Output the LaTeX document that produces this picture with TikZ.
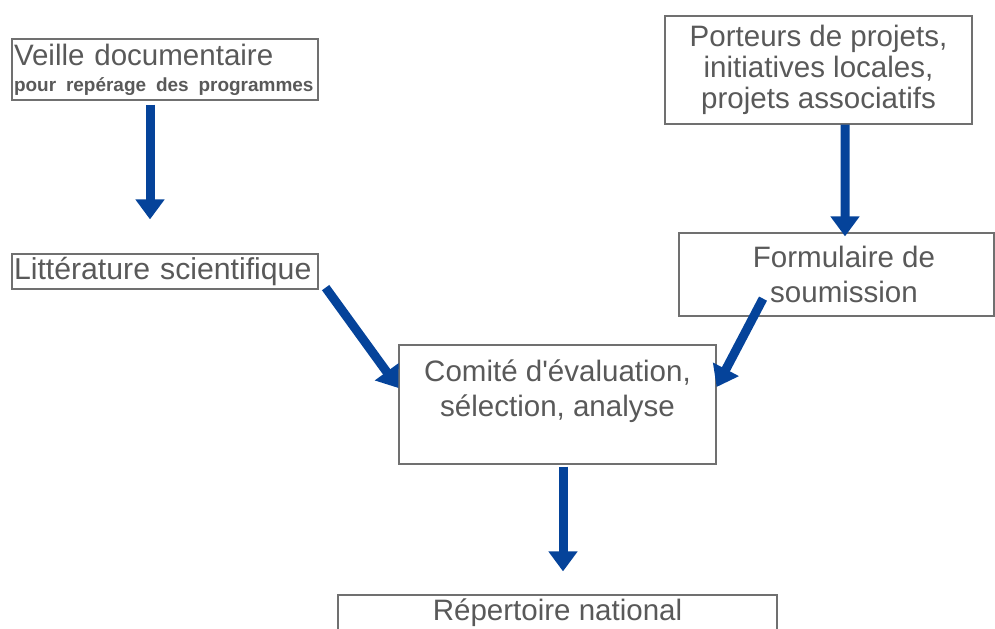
\documentclass[tikz,border=0pt]{standalone}
\usepackage{fontspec}
\setmainfont{Liberation Sans}[Ligatures=TeXOff]
\usetikzlibrary{arrows.meta}
\definecolor{boxgray}{HTML}{707070}
\definecolor{txtgray}{HTML}{595959}
\definecolor{flowblue}{HTML}{05439A}

\begin{document}
\begin{tikzpicture}[
  stepbox/.style={rectangle, draw=boxgray, line width=0.7pt, inner sep=0.4mm,
    text=txtgray, align=center, font=\fontsize{16.8}{17}\selectfont},
  flow/.style={draw=flowblue, line width=1.8mm,
    -{Triangle[width=5.6mm, length=4mm]}}
]
  \useasboundingbox (0,0) rectangle (19.9,-12.56);

  \node[stepbox, minimum width=6.12cm, minimum height=1.22cm, text width=6.04cm,
    align=left] (veille) at (3.30,-1.39)
    {\raisebox{-3pt}{Veille documentaire}\\[1pt]{\fontsize{10.8}{12}\selectfont\bfseries pour repérage des programmes}};
  \node[stepbox, minimum width=6.12cm, minimum height=0.70cm, text width=6.04cm,
    align=left, font=\fontsize{17.2}{17}\selectfont] (lit) at (3.30,-5.43) {Littérature scientifique};
  \node[stepbox, minimum width=6.14cm, minimum height=2.16cm] (porteurs) at (16.37,-1.40)
    {Porteurs de projets,\\[0.5pt]initiatives locales,\\[0.5pt]projets associatifs};
  \node[stepbox, minimum width=6.30cm, minimum height=1.66cm] (formulaire) at (16.73,-5.49)
    {\hspace*{3mm}Formulaire de\\[3pt]\hspace*{3mm}soumission};
  \node[stepbox, minimum width=6.34cm, minimum height=2.38cm] (comite) at (11.15,-8.09)
    {Comité d'évaluation,\\[3pt]sélection, analyse\\[2pt]\mbox{}};
  \node[stepbox, minimum width=8.78cm, minimum height=0.72cm] (repertoire) at (11.15,-12.26)
    {Répertoire national};

  % arrows
  \draw[flow, shorten <=0.8mm, shorten >=6.8mm] ([xshift=-3mm]veille.south) -- ([xshift=-3mm]lit.north);
  \draw[flow, shorten >=-0.8mm] ([xshift=5.3mm]porteurs.south) -- ([xshift=1.7mm]formulaire.north);
  \draw[flow] ([xshift=1.4mm, yshift=0.4mm]lit.south east) -- ([yshift=3.3mm]comite.west);
  \draw[flow] ([xshift=-14.7mm, yshift=3.6mm]formulaire.south) -- ([yshift=3.5mm]comite.east);
  \draw[flow, shorten <=0.4mm, shorten >=4.6mm] ([xshift=1.1mm]comite.south) -- ([xshift=1.1mm]repertoire.north);
\end{tikzpicture}
\end{document}
